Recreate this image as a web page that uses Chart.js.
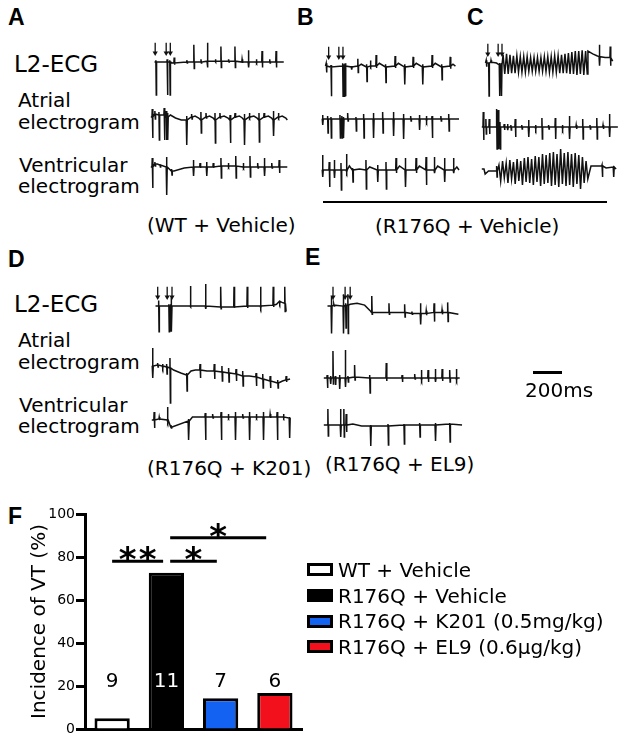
<!DOCTYPE html>
<html>
<head>
<meta charset="utf-8">
<script src="https://cdn.jsdelivr.net/npm/chart.js@4.4.1/dist/chart.umd.min.js"></script>
<style>
  body { margin: 0; background: #fff; width: 626px; height: 744px; position: relative; overflow: hidden;
         font-family: "DejaVu Sans", sans-serif; color: #000; }
  .t { position: absolute; white-space: nowrap; line-height: 1; }
  .lbl { font-family: "Liberation Sans", Arial, sans-serif; font-weight: bold; }
  canvas { position: absolute; }
  .rule { position: absolute; background: #000; }
  .key { position: absolute; box-sizing: border-box; border: 3px solid #000; }
</style>
</head>
<body>
<script>
// ---- panel F: incidence of VT ----
const groups = ['WT + Vehicle', 'R176Q + Vehicle', 'R176Q + K201 (0.5mg/kg)', 'R176Q + EL9 (0.6\u03bcg/kg)'];
const vtIncidence = [5, 72.7, 14.3, 16.7];
const nMice = [9, 11, 7, 6];
const barColors = ['#ffffff', '#000000', '#1462f2', '#f2101c'];
const yTicks = [0, 20, 40, 60, 80, 100];
// [from category, to category, level %, number of stars]
const sigBars = [[0, 0.94, 78, 2], [1.07, 1.93, 78, 1], [1.07, 2.84, 89, 1]];
const nLevel = 19.5;

// ---- traces: time in ms, amplitude in arbitrary units ----
// [t, v] baseline point, [t, base, high, low] spike, [t, high, low] VT cycle
const aL2 = [[0,0],[10,0,2,-36],[92,0,3,-36],[111,0,2,-36],[130,-1],[143,-1,5,-3],[235,0,2,-1],[286,0,19,-7],[338,0,3,-1],[384,1,21,-6],[442,1,3,0],[483,1,17,-6],[539,1,3,0],[585,1,17,-6],[637,0,3,-1],[683,0,13,-6],[741,0,3,-1],[782,0,12,-6],[838,0,3,-1],[884,0,12,-6],[940,0]];
const aAtr = [[0,0],[10,0,8,-21],[28,3,6,-2],[56,2,5,-23],[92,2,9,-23],[106,0,6,-23],[115,0,4,-23],[135,2],[170,-1],[210,-3],[246,-3,1,-28],[281,0,3,-2],[305,1],[330,-1],[345,-3,5,-16],[380,0,4,-1],[405,1],[430,-1],[442,-3,4,-26],[476,0,4,-1],[505,1],[532,-1],[546,-3,2,-26],[580,0,4,-1],[610,1],[630,-1],[644,-3,3,-28],[679,0,4,-1],[710,1],[732,-1],[745,-3,4,-25],[780,0,4,-1],[810,1],[832,-1],[844,-3,6,-19],[879,0,4,-1],[905,1],[930,-1],[940,-3]];
const aVen = [[0,0],[10,0,9,-21],[28,3,5,1],[45,3],[63,2,3,0],[108,0,10,-28],[143,-4,-2,-8],[160,-4],[230,-1],[293,0,7,-9],[339,0,4,-1],[384,0,5,-9],[430,0,4,-1],[483,1,9,-11],[534,1,4,0],[585,1,11,-11],[637,0,4,-1],[683,0,11,-10],[736,0,4,-1],[782,0,9,-9],[833,0,4,-1],[884,0,7,-6],[940,0]];
const aStim = [5, 85, 115];

const bL2 = [[0,0],[5,0,3,-7],[40,-1,1,-33],[125,0,3,-33],[134,0,2,-33],[143,0,3,-33],[189,-1,0,-4],[235,0,8,-7],[260,2],[299,-1,2,-17],[327,0,6,-1],[368,0,12,-2],[392,3],[437,-1,2,-18],[506,0,11,-2],[530,3],[575,-1,2,-20],[637,0,10,-2],[660,3],[706,-1,2,-20],[775,0,12,-2],[798,3],[845,-1,2,-15],[907,0,10,-3],[927,2],[945,0]];
const bAtr = [[0,0],[5,0,4,-6],[40,0,3,-14],[63,0,2,-19],[125,0,4,-19],[138,0,3,-19],[148,0,2,-19],[178,0,6,-2],[235,0,2,-12],[288,0,5,-19],[355,0,6,-19],[419,0,7,-14],[493,0,7,-17],[562,0,5,-20],[612,0,3,-2],[672,0,4,-11],[720,0,3,-2],[759,0,3,-19],[820,0,3,-2],[874,0,5,-12],[945,0]];
const bVen = [[0,0],[5,0,15,-7],[51,0,8,-17],[86,0,10,-8],[132,0,7,-20],[170,0,16,-2],[190,4],[212,0,2,-12],[260,1],[304,0,10,-19],[330,3],[384,0,5,-12],[442,0,8,-19],[511,0,12,-3],[535,4],[575,0,12,-17],[649,0,12,-3],[672,4],[718,0,13,-15],[775,0,13,-3],[798,4],[845,0,12,-12],[907,0,12,-3],[930,3],[945,0]];
const bStim = [23, 97, 127];

const cL2 = [[0,0],[5,0,3,-4],[23,0,1,-36],[40,1,3,0],[80,0],[102,-2,0,-36],[115,-2,0,-36],
  [128,9,-12],[153,10,-12],[178,9,-11],[203,8,-11],[228,8,-10],[253,7,-10],[278,7,-10],[303,7,-9],[328,6,-9],
  [353,6,-9],[378,6,-9],[403,6,-9],[428,7,-9],[453,7,-10],[478,7,-10],[503,8,-10],[528,8,-11],[553,9,-11],
  [578,10,-11],[603,11,-12],[628,12,-12],[653,13,-13],[678,13,-12],[703,14,-13],[728,13,-12],
  [745,13],[780,10],[810,8],[828,7,20,-3],[870,6],[907,6,18,-3],[925,2]];
const cAtr = [[0,0],[10,0,15,-13],[28,0,8,-7],[51,0,8,-7],[102,0,18,-22],[113,0,17,-22],[125,0,5,-22],[154,0,3,-3],[177,0,3,-3],[200,0,2,-3],[230,0,8,-10],[275,0,2,-2],[322,0,7,-10],[370,0,2,-2],[414,0,9,-12],[460,0,2,-2],[506,0,9,-12],[555,0,2,-2],[603,0,11,-12],[650,0,2,-2],[695,0,8,-12],[745,0,2,-2],[792,0,9,-12],[835,0,2,-2],[879,0,13,-10],[937,0]];
const cVen = [[0,0],[15,0],[23,-5],[46,-2],[97,-2],[102,-2,3,-8],
  [118,4,-12],[143,8,-9],[168,6,-14],[193,9,-10],[218,7,-15],[243,10,-12],[268,8,-16],[293,11,-13],[318,12,-14],
  [343,10,-16],[368,13,-13],[393,12,-17],[418,15,-15],[443,14,-14],[468,16,-17],[493,17,-16],[518,15,-18],[543,20,-15],
  [568,16,-17],[593,17,-16],[618,15,-18],[643,16,-15],[668,14,-20],[693,12,-14],[718,8,-10],
  [752,3],[815,3],[828,3,4,-8],[856,1],[907,2,3,-8],[925,0]];
const cStim = [17, 92, 120];

const dL2 = [[0,0],[23,0,6,-28],[97,0,2,-28],[108,0,2,-28],[115,0,9,-28],[253,0,22,-1],[364,0,24,-3],[474,-1,21,-3],[571,-1,21,-2],[667,0,21,-2],[764,0,21,-2],[856,1,21,-1],[880,2],[902,5,6,3],[920,4],[940,3,21,-6],[950,-6]];
const dAtr = [[0,0],[5,0,18,-12],[40,1,3,-1],[74,0,2,-2],[102,-1,2,-8],[125,-2,8,-37],[150,-4],[200,-7],[240,-9,-7,-25],[270,-5],[300,-4],[332,-4,2,-12],[380,-5],[430,-5,2,-13],[483,-6,0,-15],[529,-7,-2,-16],[580,-8,-3,-15],[626,-10,-5,-20],[672,-10],[718,-11,-7,-20],[764,-13,-8,-22],[815,-15,-10,-22],[867,-17,-14,-22],[900,-15],[925,-14,-10,-16],[952,-13]];
const dVen = [[0,0],[16,0,8,-8],[51,1,3,0],[108,0,13,-2],[132,-7,-5,-8],[140,-7],[250,-1],[253,-1,1,-20],[280,3],[368,3,7,-20],[419,3,6,2],[477,3,8,-20],[527,3,6,2],[575,3,8,-20],[626,3,6,2],[672,3,8,-20],[720,3,6,2],[768,3,8,-20],[815,3,6,2],[863,3,8,-20],[907,3,6,2],[948,2,3,-18]];
const dStim = [16, 85, 120];

const eL2 = [[0,0],[28,0,11,-30],[46,1,2,0],[115,0,13,-30],[132,1,3,-24],[148,1,13,-30],[165,2],[215,3],[270,1],[310,-5],[322,-7,11,-9],[447,-7,3,-9],[561,-7,2,-12],[614,-8,-6,-9],[676,-8,3,-20],[718,-8,-5,-10],[775,-7,3,-17],[833,-7,-4,-9],[874,-7,4,-17],[952,-9]];
const eAtr = [[0,0],[23,0,3,-10],[46,0,2,-6],[63,0,27,-6],[79,0,2,-7],[108,0,3,-11],[148,0,28,-9],[166,0,2,-4],[212,1,13,-2],[316,0,3,-15],[430,0,15,-3],[539,0,3,-4],[626,0,4,-1],[672,0,8,-2],[718,0,8,-4],[768,0,9,-4],[815,0,9,-3],[867,0,8,-4],[913,0,9,-2],[936,0]];
const eVen = [[0,0],[28,0,16,-11],[115,0,16,-12],[138,0,16,-12],[154,0,11,-7],[200,1],[260,-1],[322,-1,0,-21],[442,-1,1,-20],[552,0,1,-19],[660,0,2,-12],[768,0,2,-16],[867,1,2,-17],[952,0]];
const eStim = [40, 128, 165];

const scaleBarMs = 200;

// ---- layout ----
const MS_PX = 6.9;          // 200 ms = 29 px
const T_MIN = -40, T_MAX = 1000;
const Y_MIN = -60, Y_MAX = 35;
const INK = '#111';

Chart.defaults.font.family = "'DejaVu Sans', sans-serif";

function text(str, x, base, size, cls) {
  const d = document.createElement('div');
  d.className = 't' + (cls ? ' ' + cls : '');
  d.textContent = str;
  d.style.left = x + 'px';
  d.style.top = (base - 0.846 * size) + 'px';
  d.style.fontSize = size + 'px';
  document.body.appendChild(d);
}

function rule(x, y, w, h) {
  const d = document.createElement('div');
  d.className = 'rule';
  Object.assign(d.style, { left: x + 'px', top: y + 'px', width: w + 'px', height: h + 'px' });
  document.body.appendChild(d);
}

function build(list) {
  const pts = [];
  list.forEach(e => {
    if (e.length === 2) pts.push({ x: e[0], y: e[1] });
    else if (e.length === 3) pts.push({ x: e[0], y: e[1] }, { x: e[0] + 12, y: e[2] });
    else {
      const [t, b, hi, lo] = e;
      pts.push({ x: t - 2, y: b }, { x: t, y: hi }, { x: t + 3, y: lo }, { x: t + 5, y: b });
    }
  });
  return pts;
}

function trace(list, x0, base, stim) {
  const c = document.createElement('canvas');
  c.width = Math.round((T_MAX - T_MIN) / MS_PX);
  c.height = Y_MAX - Y_MIN;
  c.style.left = (x0 + T_MIN / MS_PX) + 'px';
  c.style.top = (base - Y_MAX) + 'px';
  document.body.appendChild(c);
  const ds = [{ data: build(list), borderColor: INK, borderWidth: 1.5, pointRadius: 0, tension: 0, clip: false }];
  if (stim) {
    ds.push({ data: stim.flatMap(t => [{ x: t, y: 21 }, { x: t, y: 10 }, { x: t, y: null }]),
              borderColor: INK, borderWidth: 1.3, pointRadius: 0, spanGaps: false, clip: false });
    ds.push({ data: stim.map(t => ({ x: t, y: 10 })), showLine: false, pointStyle: 'triangle', rotation: 180,
              pointRadius: 3, backgroundColor: INK, borderWidth: 0, clip: false });
  }
  new Chart(c, {
    type: 'line',
    data: { datasets: ds },
    options: {
      responsive: false, animation: false, devicePixelRatio: 1, events: [],
      layout: { padding: 0 },
      plugins: { legend: { display: false }, tooltip: { enabled: false } },
      scales: {
        x: { type: 'linear', display: false, min: T_MIN, max: T_MAX },
        y: { display: false, min: Y_MIN, max: Y_MAX }
      }
    }
  });
}

// panel letters
text('A', 8, 25, 23, 'lbl');
text('B', 297, 25, 23, 'lbl');
text('C', 467, 25, 23, 'lbl');
text('D', 8, 267, 23, 'lbl');
text('E', 305, 265, 23, 'lbl');
text('F', 8, 524, 23, 'lbl');

// row labels
[0, 240].forEach(dy => {
  text('L2-ECG', 14, 72 + dy, 23);
  text('Atrial', 18, 107 + dy, 20);
  text('electrogram', 18, 129 + dy, 20);
  text('Ventricular', 19, 172 + dy, 20);
  text('electrogram', 18, 193 + dy, 20);
});

text('(WT + Vehicle)', 147, 232, 20);
text('(R176Q + Vehicle)', 375, 233, 20);
text('(R176Q + K201)', 147, 475, 20);
text('(R176Q + EL9)', 325, 471, 20);
rule(323, 201, 284, 2);

// traces
trace(aL2, 151, 61, aStim);  trace(aAtr, 151, 117);  trace(aVen, 151, 167);
trace(bL2, 322, 65, bStim);  trace(bAtr, 322, 119);  trace(bVen, 322, 170);
trace(cL2, 482, 62, cStim);  trace(cAtr, 482, 127);  trace(cVen, 482, 169);
trace(dL2, 152, 305, dStim); trace(dAtr, 152, 366); trace(dVen, 152, 420);
trace(eL2, 324, 305, eStim); trace(eAtr, 324, 378); trace(eVen, 324, 425);

// scale bar
rule(533, 371, scaleBarMs / MS_PX, 2.5);
text(scaleBarMs + 'ms', 525, 397, 20);

// ---- panel F ----
const fc = document.createElement('canvas');
fc.width = 312; fc.height = 254;
fc.style.left = '0px'; fc.style.top = '490px';
document.body.appendChild(fc);

const annot = {
  id: 'annot',
  afterDatasetsDraw(chart) {
    const { ctx, scales: { x, y } } = chart;
    ctx.save();
    ctx.textAlign = 'center';
    ctx.textBaseline = 'alphabetic';
    ctx.font = "20px 'DejaVu Sans'";
    nMice.forEach((n, i) => {
      ctx.fillStyle = i === 1 ? '#fff' : '#000';
      ctx.fillText(String(n), x.getPixelForValue(i), y.getPixelForValue(nLevel));
    });
    ctx.strokeStyle = '#000';
    ctx.fillStyle = '#000';
    ctx.lineWidth = 3;
    ctx.font = "bold 34px 'DejaVu Sans'";
    sigBars.forEach(([a, b, lvl, k]) => {
      const x1 = x.getPixelForValue(a), x2 = x.getPixelForValue(b), yy = y.getPixelForValue(lvl);
      ctx.beginPath(); ctx.moveTo(x1, yy); ctx.lineTo(x2, yy); ctx.stroke();
      const mid = (x1 + x2) / 2;
      for (let s = 0; s < k; s++) {
        ctx.fillText('*', mid + (s - (k - 1) / 2) * 20, yy + 10);
      }
    });
    ctx.restore();
  }
};

new Chart(fc, {
  type: 'bar',
  data: {
    labels: groups,
    datasets: [{
      data: vtIncidence,
      backgroundColor: barColors,
      borderColor: '#000',
      borderWidth: 3,
      barPercentage: 0.65,
      categoryPercentage: 1
    }]
  },
  options: {
    responsive: false, animation: false, devicePixelRatio: 1, events: [],
    layout: { padding: { top: 24, right: 10, left: 0, bottom: 0 } },
    plugins: { legend: { display: false }, tooltip: { enabled: false } },
    scales: {
      x: {
        ticks: { display: false },
        grid: { display: false },
        border: { display: true, color: '#000', width: 3 },
        afterFit(s) { s.height = 15; }
      },
      y: {
        min: 0, max: 100,
        afterBuildTicks(s) { s.ticks = yTicks.map(v => ({ value: v })); },
        ticks: { color: '#000', font: { size: 14 }, padding: 1 },
        grid: { drawOnChartArea: false, tickLength: 9, tickWidth: 3, tickColor: '#000' },
        border: { color: '#000', width: 3 },
        title: { display: true, text: 'Incidence of VT (%)', color: '#000', font: { size: 20 }, padding: { top: 28, bottom: 0 } },
        afterFit(s) { s.width = 85; }
      }
    }
  },
  plugins: [annot]
});

// legend
groups.forEach((g, i) => {
  const k = document.createElement('div');
  k.className = 'key';
  Object.assign(k.style, { left: '307px', top: (563 + i * 25.8) + 'px', width: '26px', height: '13px', background: barColors[i] });
  document.body.appendChild(k);
  text(g, 338, 577 + i * 25.6, 20);
});
</script>
</body>
</html>
